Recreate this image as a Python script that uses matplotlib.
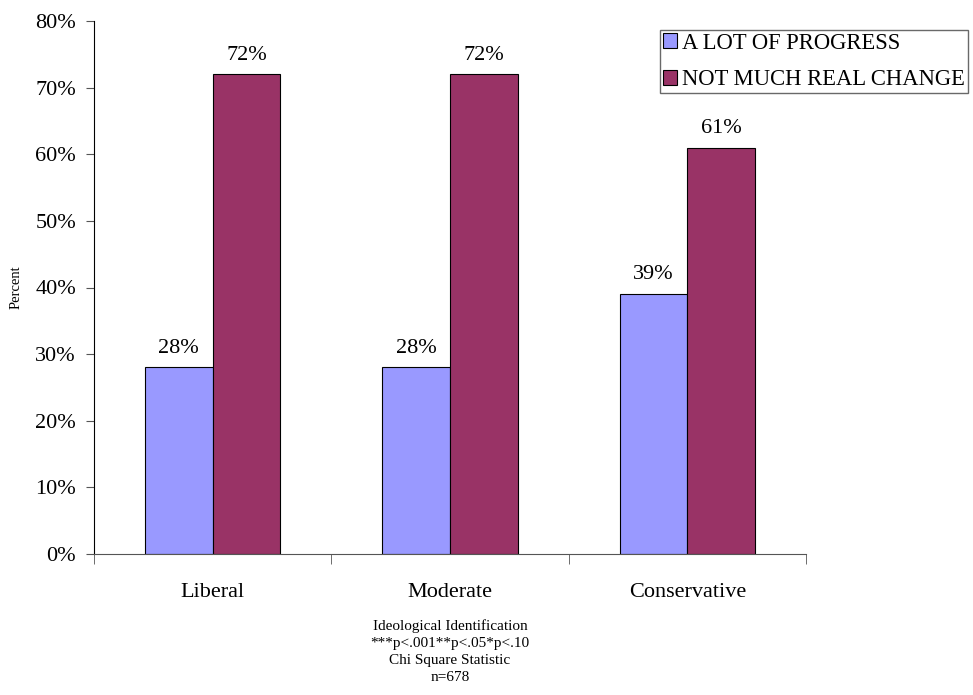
import numpy as np
import matplotlib
matplotlib.use("Agg")
import matplotlib.pyplot as plt
from matplotlib.ticker import FuncFormatter

plt.rcParams['font.family'] = ['Liberation Serif', 'DejaVu Serif']

groups = ['Liberal', 'Moderate', 'Conservative']
series = ['A LOT OF PROGRESS', 'NOT MUCH REAL CHANGE']
progress = [28, 28, 39]
no_change = [72, 72, 61]
colors = ['#9999FF', '#993366']

fig = plt.figure(figsize=(9.73, 6.95), dpi=100)
ax = fig.add_axes([94/973, 1-554/695, 712/973, 533/695])

x = np.arange(len(groups))
w = 0.285
b1 = ax.bar(x - w/2, progress, w, color=colors[0], edgecolor='black', linewidth=0.8, label=series[0])
b2 = ax.bar(x + w/2, no_change, w, color=colors[1], edgecolor='black', linewidth=0.8, label=series[1])

for bars, vals in [(b1, progress), (b2, no_change)]:
    for r, v in zip(bars, vals):
        ax.annotate('%d%%' % v, (r.get_x() + r.get_width()/2, v), xytext=(0, 7),
                    textcoords='offset points', ha='center', va='bottom', fontsize=16)

ax.set_xlim(-0.5, len(groups) - 0.5)
ax.set_ylim(0, 80)
ax.set_yticks(range(0, 81, 10))
ax.yaxis.set_major_formatter(FuncFormatter(lambda v, p: '%d%%' % v))
ax.set_xticks(x)
ax.set_xticklabels(groups, fontsize=16)
ax.set_xticks(np.arange(-0.5, len(groups), 1), minor=True)
ax.tick_params(axis='x', which='major', length=0, pad=21)
ax.tick_params(axis='x', which='minor', length=7, direction='out', color='#555555')
ax.tick_params(axis='y', length=6, direction='out', color='#555555', labelsize=16, pad=7)

for s in ['top', 'right']:
    ax.spines[s].set_visible(False)
ax.spines['left'].set_color('black')
ax.spines['bottom'].set_color('#555555')

ax.set_ylabel('Percent', fontsize=10.5, labelpad=9)
ax.set_xlabel('Ideological Identification\n***p<.001**p<.05*p<.10\nChi Square Statistic\nn=678',
              fontsize=11, linespacing=1.42, labelpad=12)

leg = fig.legend(loc='upper left', bbox_to_anchor=(660/973, 1-30/695), fontsize=16.3,
                 frameon=True, fancybox=False, edgecolor='#444444', handlelength=0.65,
                 handleheight=0.65, handletextpad=0.22, borderpad=0.12, labelspacing=0.68,
                 borderaxespad=0)
leg.get_frame().set_linewidth(1.0)

fig.savefig('out.png', dpi=100)
